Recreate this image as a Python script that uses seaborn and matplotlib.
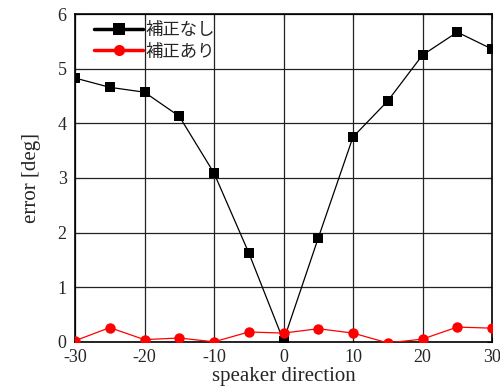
import numpy as np
import pandas as pd
import matplotlib.pyplot as plt
import seaborn as sns

direction = [-30, -25, -20, -15, -10, -5, 0, 5, 10, 15, 20, 25, 30]
err_raw = [4.83, 4.66, 4.57, 4.13, 3.09, 1.63, 0.02, 1.90, 3.75, 4.41, 5.25, 5.67, 5.36]
err_cor = [0.02, 0.26, 0.04, 0.07, 0.0, 0.18, 0.16, 0.24, 0.16, -0.02, 0.05, 0.27, 0.25]
labels = ['補正なし', '補正あり']

df = pd.DataFrame({
    'direction': direction * 2,
    'error': err_raw + err_cor,
    'kind': [labels[0]] * len(direction) + [labels[1]] * len(direction),
})

sns.set_style('ticks')
plt.rcParams['font.family'] = ['Liberation Serif', 'DejaVu Serif']
plt.rcParams['axes.unicode_minus'] = False

fig = plt.figure(figsize=(5, 3.92), dpi=100)
ax = fig.add_axes([0.15, 0.128, 0.834, 0.836])

sns.lineplot(data=df, x='direction', y='error', hue='kind', style='kind',
             palette={labels[0]: 'black', labels[1]: 'red'},
             markers={labels[0]: 's', labels[1]: 'o'}, dashes=False,
             markersize=7.5, linewidth=0.9, markeredgewidth=0, ax=ax, zorder=3)

ax.set_xlim(-30, 30)
ax.set_ylim(0, 6)
ax.set_xticks(range(-30, 31, 10))
ax.set_yticks(range(0, 7))
ax.grid(True, color='#222222', linewidth=0.9)
ax.tick_params(direction='in', top=True, right=True, labelsize=13)
ax.tick_params(axis='y', pad=6)
ax.tick_params(axis='x', pad=5)
for s in ax.spines.values():
    s.set_linewidth(1.2)
    s.set_color('black')
ax.set_xlabel('speaker direction', fontsize=15, labelpad=1)
ax.set_ylabel('error [deg]', fontsize=15, labelpad=12)

h, l = ax.get_legend_handles_labels()
for hh in h:
    hh.set_linewidth(2.5)
    hh.set_markersize(8)
ax.legend(h, l, loc='upper left', frameon=False, handlelength=2.8,
          handletextpad=0.15, labelspacing=0.2, borderaxespad=0.0,
          prop={'family': ['Noto Sans CJK JP', 'DejaVu Sans'], 'size': 12.5},
          bbox_to_anchor=(0.03, 1.0))

fig.savefig('out.png', dpi=100)
